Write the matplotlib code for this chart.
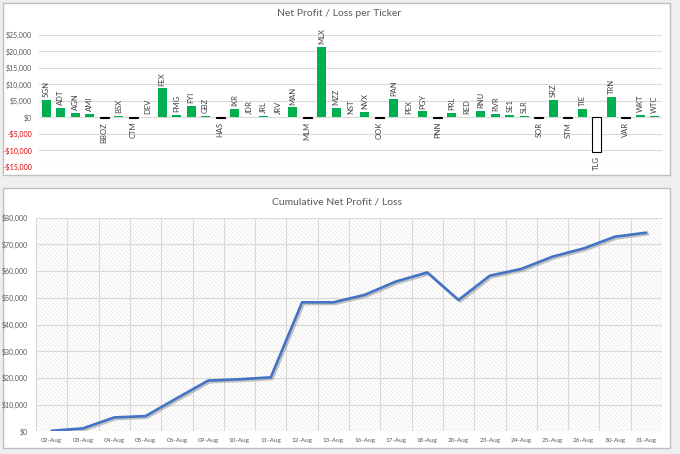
import numpy as np
import matplotlib
matplotlib.use('Agg')
import matplotlib.pyplot as plt
from matplotlib.patches import Rectangle
import matplotlib.patheffects as pe
from matplotlib.ticker import FuncFormatter

## ------------  Data  ---------------
tickers = ['5GN', 'ADT', 'AGN', 'AMI', 'BBOZ', 'BSX', 'CTM', 'DEV', 'FEX', 'FMG',
           'FYI', 'GBZ', 'HAS', 'IXR', 'JDR', 'JRL', 'JRV', 'MAN', 'MLM', 'MLX',
           'MZZ', 'NST', 'NVX', 'OOK', 'PAN', 'PEX', 'PGY', 'PNN', 'PRL', 'RED',
           'RNU', 'RVR', 'SE1', 'SLR', 'SOR', 'SRZ', 'STM', 'TIE', 'TLG', 'TRN',
           'VAR', 'WKT', 'WTC']
profit = [5200, 2900, 1400, 1000, -300, 500, -300, 200, 8800, 700,
          3400, 400, -300, 2500, 200, 400, 200, 3000, -300, 21500,
          2900, 200, 1600, -300, 5500, 200, 1800, -300, 1300, 200,
          2000, 1000, 700, 500, -300, 5300, -300, 2500, -10600, 6100,
          -300, 800, 400]

dates = ['02-Aug', '03-Aug', '04-Aug', '05-Aug', '06-Aug', '09-Aug', '10-Aug',
         '11-Aug', '12-Aug', '13-Aug', '16-Aug', '17-Aug', '18-Aug', '20-Aug',
         '23-Aug', '24-Aug', '25-Aug', '26-Aug', '30-Aug', '31-Aug']
cumulative = [200, 1100, 5200, 5700, 12400, 19000, 19500, 20200, 48300, 48300,
              51100, 56100, 59500, 49200, 58300, 60800, 65400, 68500, 72900, 74400]

## ------------  Style  ---------------
plt.rcParams['font.family'] = ['Lato', 'DejaVu Sans']
plt.rcParams['hatch.linewidth'] = 0.4
txt_gray = '#595959'
grid_gray = '#d9d9d9'
BACK = chr(92)

W, H = 680, 454
fig = plt.figure(figsize=(6.8, 4.54), dpi=100, facecolor='#efefef')

def px_rect(x0, y0, x1, y1):
	# pixel box (top-left origin) -> figure fraction
	return [x0 / W, 1 - y1 / H, (x1 - x0) / W, (y1 - y0) / H]

for box in [(3, 3, 670, 175), (3, 188, 670, 448)]:
	l, b, w, h = px_rect(*box)
	fig.patches.append(Rectangle((l, b), w, h, transform=fig.transFigure,
		facecolor='white', edgecolor='#bfbfbf', linewidth=1.0, zorder=-5))

money = FuncFormatter(lambda v, p: ('-$' if v < 0 else '$') + format(abs(int(v)), ','))

## ------------  Top: per ticker  ---------------
ax1 = fig.add_axes(px_rect(39, 35, 662, 166.7))
ax1.set_facecolor('none')
x = np.arange(len(tickers))
vals = np.array(profit)
pos = vals >= 0
ax1.bar(x[pos], vals[pos], width=0.62, color='#00b050', zorder=3)
ax1.bar(x[~pos], vals[~pos], width=0.62, color='white', edgecolor='black',
	linewidth=0.8, zorder=3)
for xi, v, t in zip(x, vals, tickers):
	if v >= 0:
		ax1.annotate(t, (xi, v), xytext=(0, 2), textcoords='offset points',
			rotation=90, ha='center', va='bottom', fontsize=5.5, color='#404040',
			annotation_clip=False)
	else:
		ax1.annotate(t, (xi, v), xytext=(0, -2.5), textcoords='offset points',
			rotation=90, ha='center', va='top', fontsize=5.5, color='#404040',
			annotation_clip=False)
ax1.set_xlim(-0.5, len(tickers) - 0.5)
ax1.set_ylim(-15000, 25000)
ax1.set_yticks(np.arange(-15000, 25001, 5000))
ax1.yaxis.set_major_formatter(money)
ax1.grid(axis='y', color=grid_gray, linewidth=0.8, zorder=0)
ax1.set_xticks([])
ax1.tick_params(axis='y', length=0, pad=5, labelsize=5, labelcolor=txt_gray)
for lab, v in zip(ax1.get_yticklabels(), ax1.get_yticks()):
	if v < 0:
		lab.set_color('#e00000')
for s in ax1.spines.values():
	s.set_visible(False)
fig.text(339 / W, 1 - 14 / H, 'Net Profit / Loss per Ticker', ha='center', va='center',
	fontsize=7.5, color=txt_gray)

## ------------  Bottom: cumulative  ---------------
ax2 = fig.add_axes(px_rect(36, 217.7, 662, 431.3))
ax2.set_facecolor('none')
ax2.add_patch(Rectangle((0, 0), 1, 1, transform=ax2.transAxes, facecolor='none',
	edgecolor='#e0e0e0', hatch=BACK * 8, linewidth=0, zorder=0))
xd = np.arange(len(dates))
ax2.plot(xd, cumulative, color='#4472c4', linewidth=1.9, zorder=4,
	solid_capstyle='round', solid_joinstyle='round',
	path_effects=[pe.SimpleLineShadow(offset=(1.2, -1.2), shadow_color='#808080', alpha=0.45),
		pe.Normal()])
ax2.set_xlim(-0.5, len(dates) - 0.5)
ax2.set_ylim(0, 80000)
ax2.set_yticks(np.arange(0, 80001, 10000))
ax2.yaxis.set_major_formatter(FuncFormatter(lambda v, p: '$' + format(int(v), ',')))
ax2.set_xticks(xd)
ax2.set_xticklabels(dates)
ax2.set_xticks(np.arange(-0.5, len(dates), 1), minor=True)
ax2.grid(axis='y', which='major', color=grid_gray, linewidth=0.8, zorder=1)
ax2.grid(axis='x', which='minor', color=grid_gray, linewidth=0.8, zorder=1)
ax2.grid(axis='x', which='major', visible=False)
ax2.tick_params(which='both', length=0, labelcolor=txt_gray)
ax2.tick_params(axis='y', pad=6, labelsize=5)
ax2.tick_params(axis='x', pad=5, labelsize=4.6)
for s in ax2.spines.values():
	s.set_visible(False)
fig.text(337 / W, 1 - 202 / H, 'Cumulative Net Profit / Loss', ha='center', va='center',
	fontsize=7.5, color=txt_gray)

fig.savefig('out.png', dpi=100, facecolor=fig.get_facecolor())
